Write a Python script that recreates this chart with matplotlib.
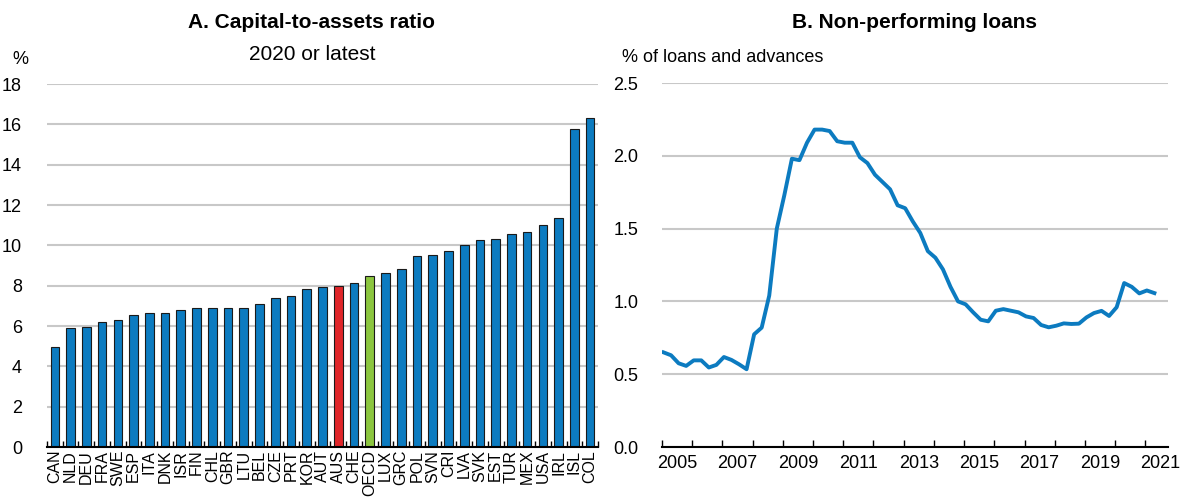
import matplotlib
matplotlib.use("Agg")
import matplotlib.pyplot as plt
import numpy as np

plt.rcParams['font.family'] = ['Liberation Sans Narrow', 'Liberation Sans', 'DejaVu Sans']

# Panel A data
countries = ['CAN', 'NLD', 'DEU', 'FRA', 'SWE', 'ESP', 'ITA', 'DNK', 'ISR', 'FIN',
             'CHL', 'GBR', 'LTU', 'BEL', 'CZE', 'PRT', 'KOR', 'AUT', 'AUS', 'CHE',
             'OECD', 'LUX', 'GRC', 'POL', 'SVN', 'CRI', 'LVA', 'SVK', 'EST', 'TUR',
             'MEX', 'USA', 'IRL', 'ISL', 'COL']
capital_ratio = [4.95, 5.9, 5.95, 6.2, 6.3, 6.55, 6.65, 6.65, 6.8, 6.9,
                 6.9, 6.9, 6.9, 7.1, 7.4, 7.5, 7.85, 7.95, 8.0, 8.15,
                 8.5, 8.63, 8.83, 9.47, 9.5, 9.72, 10.0, 10.25, 10.31, 10.55,
                 10.64, 11.02, 11.37, 15.75, 16.33]

# Panel B data, quarterly 2005Q1 - 2021Q2
npl_start_year = 2005
npl = [0.65, 0.63, 0.575, 0.557, 0.595, 0.595, 0.546, 0.564,
       0.618, 0.598, 0.568, 0.534, 0.774, 0.82, 1.04, 1.50,
       1.73, 1.98, 1.97, 2.09, 2.18, 2.18, 2.17, 2.10,
       2.09, 2.09, 1.99, 1.95, 1.87, 1.82, 1.77, 1.66,
       1.64, 1.55, 1.47, 1.345, 1.30, 1.22, 1.10, 1.00,
       0.98, 0.925, 0.874, 0.863, 0.936, 0.947, 0.936, 0.925,
       0.897, 0.886, 0.838, 0.822, 0.833, 0.849, 0.845, 0.847,
       0.89, 0.92, 0.935, 0.90, 0.96, 1.126, 1.10, 1.055,
       1.075, 1.057]

blue = '#0C7BC0'
grid_col = '#C8C8C8'

fig = plt.figure(figsize=(11.89, 4.98), dpi=100)
W, H = 1189, 498

def fx(px):
    return px / W

def fy(py):
    return 1 - py / H

# ---- Panel A ----
ax1 = fig.add_axes([fx(47), fy(447), fx(598 - 47), (447 - 84) / H])
x = np.arange(len(countries))
colors = [blue] * len(countries)
colors[countries.index('AUS')] = '#E0262A'
colors[countries.index('OECD')] = '#8CC63F'
ax1.bar(x, capital_ratio, width=0.55, color=colors, edgecolor='#1a1a1a', linewidth=0.8, zorder=3)
ax1.set_xlim(-0.5, len(countries) - 0.5)
ax1.set_ylim(0, 18)
ax1.set_yticks(range(0, 19, 2))
ax1.yaxis.grid(True, color=grid_col, linewidth=1.5, zorder=0)
ax1.set_xticks(x)
ax1.set_xticklabels(countries, rotation=90, fontsize=11.5, va='top', ha='center')
ax1.set_xticks(np.arange(-0.5, len(countries), 1), minor=True)
ax1.tick_params(axis='x', which='major', length=0, pad=2)
ax1.tick_params(axis='x', which='minor', direction='in', length=4, width=1, color='black')
ax1.tick_params(axis='y', length=0, labelsize=13, pad=18)
for s in ['top', 'right', 'left']:
    ax1.spines[s].set_visible(False)
ax1.spines['bottom'].set_linewidth(1.5)
ax1.spines['bottom'].set_zorder(4)

fig.text(fx(312), fy(22), 'A. Capital-to-assets ratio', fontsize=15, fontweight='bold',
         ha='center', va='center')
fig.text(fx(312), fy(54), '2020 or latest', fontsize=15, ha='center', va='center')
fig.text(fx(12), fy(59), '%', fontsize=13, ha='left', va='center')

# ---- Panel B ----
ax2 = fig.add_axes([fx(662), fy(447), fx(1168 - 662), (447 - 83) / H])
t = npl_start_year + np.arange(len(npl)) / 4 + 0.05
ax2.plot(t, npl, color=blue, linewidth=2.8, zorder=3, solid_joinstyle='round')
ax2.set_xlim(2005, 2021.75)
ax2.set_ylim(0, 2.5)
ax2.set_yticks(np.arange(0, 2.51, 0.5))
ax2.set_yticklabels([f'{v:.1f}' for v in np.arange(0, 2.51, 0.5)])
ax2.yaxis.grid(True, color=grid_col, linewidth=1.5, zorder=0)
ax2.set_xticks(range(2005, 2022))
ax2.set_xticklabels([])
ax2.set_xticks([y + 0.5 for y in range(2005, 2022, 2)], minor=True)
ax2.set_xticklabels([str(y) for y in range(2005, 2022, 2)], minor=True, fontsize=13)
ax2.tick_params(axis='x', which='major', direction='in', length=5, width=1)
ax2.tick_params(axis='x', which='minor', length=0, pad=6)
ax2.tick_params(axis='y', length=0, labelsize=13, pad=17)
for s in ['top', 'right', 'left']:
    ax2.spines[s].set_visible(False)
ax2.spines['bottom'].set_linewidth(1.5)

fig.text(fx(915), fy(22), 'B. Non-performing loans', fontsize=15, fontweight='bold',
         ha='center', va='center')
fig.text(fx(622), fy(57), '% of loans and advances', fontsize=13, ha='left', va='center')

fig.savefig('out.png', dpi=100)
